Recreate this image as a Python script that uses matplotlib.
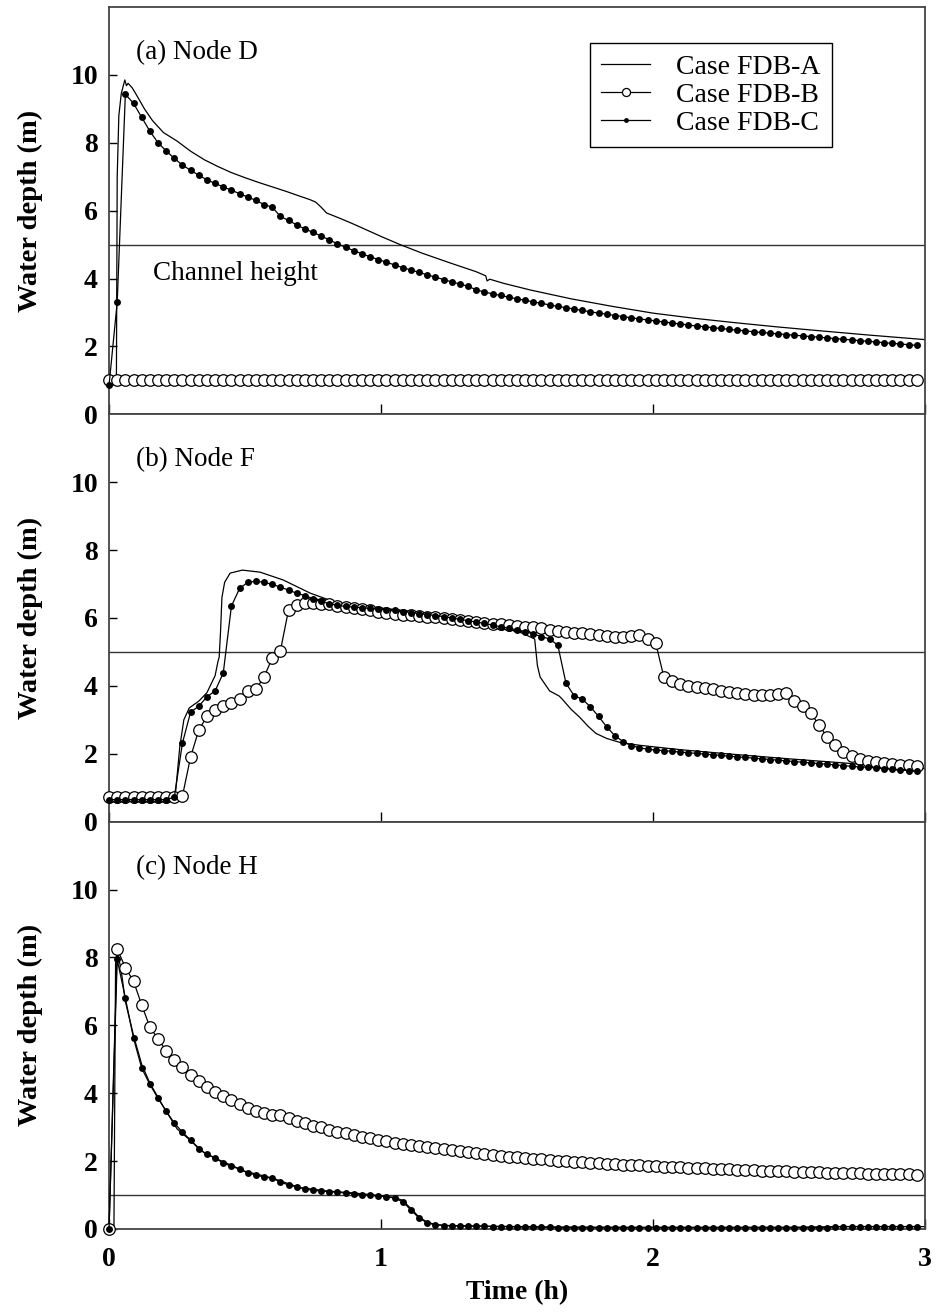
import numpy as np
import matplotlib
matplotlib.use("Agg")
import matplotlib.pyplot as plt
from matplotlib.lines import Line2D

plt.rcParams["font.family"] = ["Liberation Serif", "DejaVu Serif"]

# Marker series (Case FDB-B, FDB-C) are sampled every 0.03 h
t_mark = np.round(np.arange(100) * 0.03, 2)

# ---- (a) Node D ----
d_a_t = [0, 0.027, 0.03, 0.036, 0.045, 0.058, 0.064, 0.07, 0.085, 0.10, 0.13, 0.16, 0.20, 0.25,
         0.30, 0.35, 0.40, 0.45, 0.50, 0.55, 0.60, 0.65, 0.70, 0.74, 0.76, 0.78, 0.80, 0.85, 0.90,
         1.00, 1.07, 1.15, 1.25, 1.35, 1.385, 1.39, 1.40, 1.45, 1.55, 1.70, 1.85, 2.00, 2.15, 2.30,
         2.45, 2.60, 2.80, 3.00]
d_a = [0.9, 0.9, 7.0, 8.8, 9.45, 9.85, 9.68, 9.75, 9.62, 9.42, 9.0, 8.65, 8.3, 8.05,
       7.75, 7.5, 7.3, 7.12, 6.97, 6.83, 6.7, 6.57, 6.43, 6.32, 6.25, 6.1, 5.93, 5.77, 5.6,
       5.24, 5.0, 4.75, 4.47, 4.2, 4.08, 3.93, 3.98, 3.86, 3.66, 3.4, 3.18, 2.98, 2.83, 2.7,
       2.58, 2.47, 2.33, 2.2]
d_b = [1.0] * 100
d_c = [0.86, 3.3, 9.43, 9.16, 8.75, 8.34, 8.0, 7.76, 7.54, 7.34,
       7.19, 7.04, 6.91, 6.80, 6.70, 6.60, 6.50, 6.40, 6.30, 6.18,
       6.10, 5.83, 5.71, 5.58, 5.46, 5.36, 5.25, 5.14, 5.02, 4.92,
       4.82, 4.73, 4.64, 4.56, 4.48, 4.40, 4.32, 4.25, 4.18, 4.11,
       4.04, 3.97, 3.90, 3.84, 3.77, 3.67, 3.60, 3.55, 3.50, 3.45,
       3.40, 3.36, 3.31, 3.27, 3.22, 3.18, 3.14, 3.10, 3.06, 3.02,
       2.98, 2.95, 2.91, 2.88, 2.84, 2.81, 2.78, 2.75, 2.72, 2.69,
       2.66, 2.63, 2.60, 2.58, 2.55, 2.53, 2.50, 2.48, 2.46, 2.43,
       2.41, 2.39, 2.37, 2.35, 2.33, 2.31, 2.29, 2.27, 2.25, 2.23,
       2.21, 2.19, 2.17, 2.15, 2.13, 2.11, 2.09, 2.07, 2.05, 2.03]

# ---- (b) Node F ----
f_a_t = [0, 0.235, 0.245, 0.26, 0.275, 0.295, 0.33, 0.36, 0.39, 0.40, 0.405, 0.41, 0.415, 0.425,
         0.445, 0.49, 0.555, 0.64, 0.74, 0.84, 0.95, 1.05, 1.15, 1.25, 1.35, 1.45, 1.52, 1.565,
         1.575, 1.585, 1.62, 1.655, 1.665, 1.70, 1.73, 1.76, 1.79, 1.83, 1.88, 1.95, 2.10, 2.30,
         2.50, 2.75, 3.00]
f_a = [0.7, 0.7, 0.9, 2.2, 3.0, 3.35, 3.55, 3.8, 4.3, 4.7, 4.85, 5.6, 6.6, 7.05,
       7.32, 7.41, 7.35, 7.12, 6.73, 6.44, 6.33, 6.25, 6.15, 6.02, 5.9, 5.72, 5.55, 5.38,
       4.6, 4.26, 3.85, 3.7, 3.62, 3.3, 3.08, 2.82, 2.6, 2.45, 2.33, 2.25, 2.12, 1.98,
       1.85, 1.7, 1.56]
f_b = [0.74, 0.74, 0.74, 0.74, 0.74, 0.74, 0.74, 0.74, 0.74, 0.76,
       1.91, 2.70, 3.10, 3.30, 3.42, 3.50, 3.62, 3.85, 3.90, 4.26,
       4.82, 5.03, 6.24, 6.38, 6.44, 6.44, 6.42, 6.40, 6.36, 6.32,
       6.28, 6.25, 6.22, 6.19, 6.16, 6.13, 6.10, 6.08, 6.06, 6.04,
       6.02, 6.00, 5.98, 5.95, 5.92, 5.89, 5.86, 5.83, 5.81, 5.79,
       5.76, 5.74, 5.72, 5.70, 5.66, 5.62, 5.59, 5.56, 5.55, 5.53,
       5.50, 5.47, 5.45, 5.44, 5.47, 5.50, 5.38, 5.26, 4.26, 4.15,
       4.06, 4.00, 3.97, 3.94, 3.91, 3.85, 3.82, 3.79, 3.76, 3.74,
       3.74, 3.74, 3.76, 3.79, 3.56, 3.41, 3.20, 2.85, 2.50, 2.26,
       2.06, 1.94, 1.85, 1.80, 1.75, 1.72, 1.70, 1.68, 1.67, 1.64]
f_c = [0.65, 0.65, 0.65, 0.65, 0.65, 0.65, 0.65, 0.65, 0.72, 2.32,
       3.23, 3.40, 3.68, 3.85, 4.38, 6.35, 6.87, 7.05, 7.08, 7.05,
       6.99, 6.91, 6.82, 6.73, 6.66, 6.57, 6.49, 6.42, 6.37, 6.34,
       6.32, 6.30, 6.28, 6.26, 6.24, 6.22, 6.19, 6.16, 6.13, 6.10,
       6.07, 6.04, 6.00, 5.96, 5.92, 5.88, 5.84, 5.79, 5.74, 5.70,
       5.65, 5.60, 5.53, 5.45, 5.38, 5.20, 4.08, 3.71, 3.61, 3.38,
       3.10, 2.79, 2.53, 2.36, 2.24, 2.18, 2.13, 2.11, 2.09, 2.07,
       2.05, 2.03, 2.01, 1.99, 1.97, 1.95, 1.93, 1.91, 1.89, 1.87,
       1.85, 1.83, 1.81, 1.79, 1.77, 1.75, 1.73, 1.71, 1.69, 1.67,
       1.65, 1.63, 1.61, 1.60, 1.58, 1.56, 1.54, 1.52, 1.50, 1.48]

# ---- (c) Node H ----
h_a_t = [0, 0.018, 0.024, 0.03, 0.045, 0.06, 0.09, 0.12, 0.15, 0.20, 0.25, 0.30, 0.35, 0.40,
         0.50, 0.60, 0.70, 0.80, 0.90, 1.00, 1.05, 1.08, 1.11, 1.14, 1.17, 1.20, 1.25, 1.40,
         1.60, 1.90, 2.20, 2.50, 2.70, 3.00]
h_a = [0, 0, 7.8, 8.2, 7.6, 6.7, 5.7, 4.85, 4.3, 3.6, 2.95, 2.6, 2.25, 2.05,
       1.7, 1.5, 1.22, 1.12, 1.06, 0.98, 0.93, 0.84, 0.6, 0.35, 0.2, 0.13, 0.1, 0.08,
       0.06, 0.05, 0.05, 0.05, 0.07, 0.07]
h_b = [0.0, 8.25, 7.70, 7.30, 6.60, 5.95, 5.60, 5.25, 4.97, 4.76,
       4.53, 4.35, 4.18, 4.03, 3.91, 3.79, 3.68, 3.57, 3.48, 3.41,
       3.36, 3.35, 3.27, 3.19, 3.11, 3.04, 2.99, 2.93, 2.87, 2.82,
       2.77, 2.72, 2.67, 2.62, 2.58, 2.54, 2.50, 2.47, 2.44, 2.41,
       2.38, 2.35, 2.32, 2.29, 2.26, 2.23, 2.20, 2.18, 2.15, 2.13,
       2.11, 2.09, 2.07, 2.05, 2.03, 2.01, 1.99, 1.97, 1.96, 1.94,
       1.93, 1.92, 1.90, 1.89, 1.88, 1.87, 1.86, 1.85, 1.84, 1.83,
       1.82, 1.81, 1.80, 1.79, 1.78, 1.77, 1.76, 1.75, 1.74, 1.73,
       1.72, 1.71, 1.71, 1.70, 1.69, 1.68, 1.68, 1.67, 1.66, 1.66,
       1.65, 1.64, 1.64, 1.63, 1.63, 1.62, 1.62, 1.61, 1.61, 1.60]
h_c = [0.0, 7.94, 6.80, 5.62, 4.74, 4.26, 3.85, 3.47, 3.12, 2.85,
       2.62, 2.35, 2.20, 2.09, 1.94, 1.85, 1.76, 1.65, 1.59, 1.53,
       1.50, 1.38, 1.30, 1.24, 1.18, 1.14, 1.12, 1.10, 1.08, 1.06,
       1.04, 1.01, 0.99, 0.97, 0.95, 0.91, 0.80, 0.56, 0.32, 0.18,
       0.12, 0.10, 0.09, 0.09, 0.08, 0.08, 0.08, 0.07, 0.07, 0.07,
       0.06, 0.06, 0.06, 0.05, 0.05, 0.04, 0.04, 0.04, 0.04, 0.04,
       0.04, 0.04, 0.04, 0.04, 0.04, 0.04, 0.04, 0.04, 0.04, 0.04,
       0.04, 0.04, 0.04, 0.04, 0.04, 0.04, 0.04, 0.04, 0.04, 0.04,
       0.04, 0.04, 0.04, 0.04, 0.04, 0.04, 0.04, 0.04, 0.04, 0.07,
       0.07, 0.07, 0.07, 0.07, 0.07, 0.07, 0.07, 0.07, 0.07, 0.07]

panels = [
    ("(a) Node D", d_a_t, d_a, d_b, d_c, 5.0),
    ("(b) Node F", f_a_t, f_a, f_b, f_c, 5.0),
    ("(c) Node H", h_a_t, h_a, h_b, h_c, 1.0),
]

fig, axes = plt.subplots(3, 1, figsize=(9.36, 13.13), dpi=100, sharex=True)
fig.subplots_adjust(left=0.1165, right=0.9882, top=0.9947, bottom=0.064, hspace=0)

line_kw = dict(color="black", lw=0.9)
b_kw = dict(color="black", lw=0.9, marker="o", ms=8.3, mfc="white", mec="black", mew=0.9)
c_kw = dict(color="black", lw=0.9, marker="o", ms=5.0, mfc="black", mec="black", mew=0)

for ax, (title, ta, ya, yb, yc, ref) in zip(axes, panels):
    ax.axhline(ref, color="#333333", lw=1.0, zorder=1)
    ax.plot(ta, ya, **line_kw, zorder=2)
    ax.plot(t_mark, yb, **b_kw, zorder=3, clip_on=False)
    ax.plot(t_mark, yc, **c_kw, zorder=4, clip_on=False)

    ax.set_xlim(0, 3)
    ax.set_ylim(0, 12)
    ax.set_yticks([0, 2, 4, 6, 8, 10])
    ax.set_xticks([0, 1, 2, 3])
    ax.tick_params(axis="y", direction="in", length=6, width=1, pad=8, labelsize=20, left=True, right=False)
    ax.tick_params(axis="x", direction="in", length=7, width=1, pad=13, labelsize=20, top=False)
    for lab in ax.get_yticklabels() + ax.get_xticklabels():
        lab.set_fontweight("bold")
    for sp in ax.spines.values():
        sp.set_linewidth(1.3)
        sp.set_color("#444444")
    ax.set_ylabel("Water depth (m)", fontsize=20.5, fontweight="bold", labelpad=20)
    ax.text(0.033, 0.888, title, transform=ax.transAxes, fontsize=19.5, ha="left", va="center")

axes[0].text(0.162, 4.14, "Channel height", fontsize=19.5, ha="left", va="center")
axes[2].set_xlabel("Time (h)", fontsize=20, fontweight="bold", labelpad=6)

handles = [
    Line2D([], [], **line_kw),
    Line2D([], [], **b_kw),
    Line2D([], [], **c_kw),
]
leg = axes[0].legend(handles, ["Case FDB-A", "Case FDB-B", "Case FDB-C"],
                     loc="upper right", bbox_to_anchor=(0.886, 0.911), borderaxespad=0,
                     fontsize=20, frameon=True, fancybox=False, framealpha=1,
                     edgecolor="black", handlelength=1.75, handletextpad=0.95,
                     labelspacing=0.1, borderpad=0.4, markerscale=0.7)
leg.get_frame().set_linewidth(1.0)

fig.savefig("out.png", dpi=100)
